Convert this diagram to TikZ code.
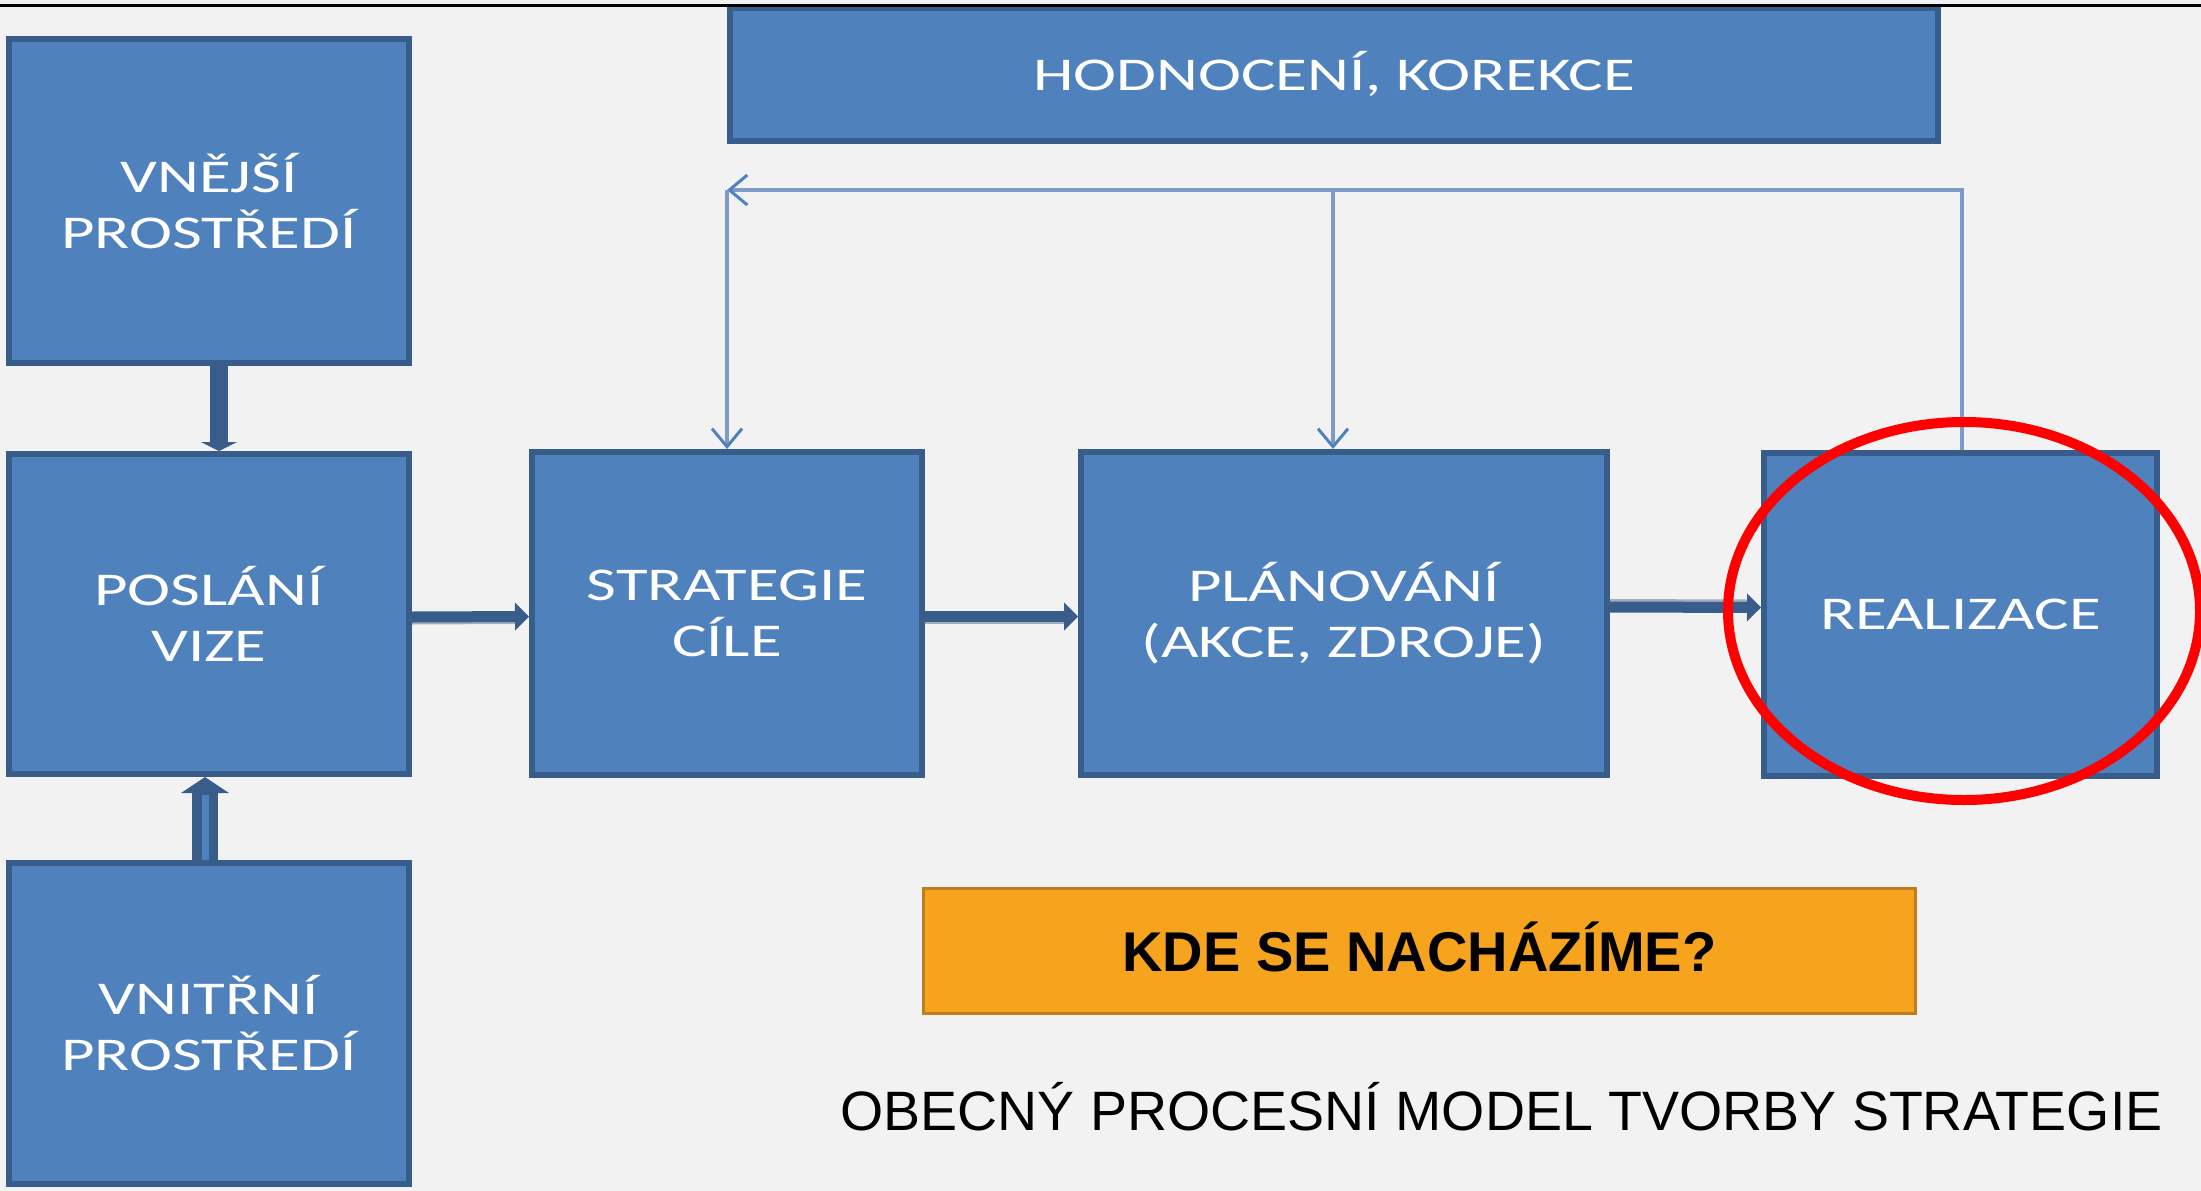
\documentclass[tikz,border=0pt]{standalone}
\usepackage{fontspec}
\setmainfont{Liberation Sans}
\newfontfamily\boxfont[FakeStretch=1.38]{Carlito}
\usetikzlibrary{arrows.meta,shadows}
\definecolor{bgc}{RGB}{242,242,242}
\definecolor{boxblue}{RGB}{79,129,189}
\definecolor{boxline}{RGB}{56,93,138}
\definecolor{boxshadow}{RGB}{160,172,190}
\definecolor{fbc}{RGB}{125,155,198}
\definecolor{orangefill}{RGB}{246,164,30}
\definecolor{orangeline}{RGB}{190,125,30}
\definecolor{ringred}{RGB}{255,0,0}
\begin{document}
\begin{tikzpicture}[x=1pt,y=-1pt,
  bluebox/.style={draw=boxline, line width=6pt, fill=boxblue, inner sep=0pt,
    text=white, align=center, font=\boxfont\fontsize{47}{56}\selectfont,
    drop shadow={shadow xshift=3pt, shadow yshift=-3pt, fill=boxshadow, opacity=1}},
  thickarrow/.style={draw=boxline, line width=11pt,
    -{Triangle[length=14pt,width=28pt,line width=0pt]}},
  arrowshadow/.style={draw=boxshadow, line width=5pt},
  fbline/.style={draw=fbc, line width=3.5pt},
  fbtip/.style={-{Straight Barb[length=18pt,width=30pt,line width=3pt,color=boxblue]}}
]
\useasboundingbox (0,0) rectangle (2201,1191);
\clip (0,0) rectangle (2201,1191);
\fill[bgc] (0,0) rectangle (2201,1191);

% boxes
\node[bluebox, minimum width=400pt, minimum height=324pt] (ext) at (209,201) {VNĚJŠÍ\\PROSTŘEDÍ};
\node[bluebox, minimum width=400pt, minimum height=320pt] (mis) at (209,614) {POSLÁNÍ\\VIZE};
\node[bluebox, minimum width=400pt, minimum height=321pt] (int) at (209,1023.5) {VNITŘNÍ\\PROSTŘEDÍ};
\node[bluebox, minimum width=390pt, minimum height=323pt] (strat) at (727,613.5) {STRATEGIE\\CÍLE};
\node[bluebox, minimum width=526pt, minimum height=323pt] (plan) at (1344,613.5) {PLÁNOVÁNÍ\\(AKCE, ZDROJE)};
\node[bluebox, minimum width=393pt, minimum height=323pt, text height=30pt, text depth=0pt] (real) at (1960.5,614) {REALIZACE};
\node[bluebox, minimum width=1208pt, minimum height=133pt, text height=31pt, text depth=0pt] (hod) at (1334,74.5) {HODNOCENÍ, KOREKCE};

% top rule
\draw[black, line width=3.5pt] (0,5.5) -- (2201,5.5);

% feedback loop
\coordinate (fbR) at (1962,190);
\coordinate (fbL) at (727,190);
\coordinate (fbM) at (1333,190);
\draw[fbline, fbtip] (real.north -| fbR) -- (fbR) -- (fbL);
\draw[fbline, fbtip] (fbL) -- (strat.north);
\draw[fbline, fbtip] (fbM) -- (plan.north -| fbM);

% thick connectors
\draw[draw=boxline, line width=18pt, -{Triangle[length=9pt,width=36pt,line width=0pt]}]
  ([xshift=10pt]ext.south) -- ([xshift=10pt]mis.north);
\draw[draw=boxline, line width=26pt, -{Triangle[length=16pt,width=48pt,line width=0pt]}]
  ([xshift=-4pt]int.north) -- ([xshift=-4pt]mis.south);
\draw[boxblue, line width=7pt] ([xshift=-4pt]int.north) -- ([xshift=-4pt,yshift=-18pt]mis.south);

\draw[arrowshadow] ([yshift=-8pt]mis.east) -- ([yshift=-8pt,xshift=-14pt]strat.west);
\draw[thickarrow] ([yshift=-3pt]mis.east) -- ([yshift=-3pt]strat.west);
\draw[arrowshadow] ([yshift=-8pt]strat.east) -- ([yshift=-8pt,xshift=-14pt]plan.west);
\draw[thickarrow] ([yshift=-3pt]strat.east) -- ([yshift=-3pt]plan.west);
\draw[arrowshadow] ([yshift=12pt]plan.east) -- ([yshift=12pt,xshift=-14pt]real.west);
\draw[thickarrow] ([yshift=6.5pt]plan.east) -- ([yshift=6.5pt]real.west);

% red ring
\draw[ringred, line width=10pt] (1964,611) ellipse [x radius=236pt, y radius=189pt];

% orange question box
\node[draw=orangeline, fill=orangefill, line width=2.5pt, minimum width=992pt, minimum height=125pt,
  inner sep=0pt, text height=40pt, text depth=0pt, text=black,
  font=\bfseries\fontsize{56}{60}\selectfont] (kde) at (1419.5,951) {KDE SE NACHÁZÍME?};

% title
\node[anchor=base, inner sep=0pt, text=black, font=\fontsize{55.5}{60}\selectfont] (title)
  at (1501.5,1130) {OBECNÝ PROCESNÍ MODEL TVORBY STRATEGIE};
\end{tikzpicture}
\end{document}
